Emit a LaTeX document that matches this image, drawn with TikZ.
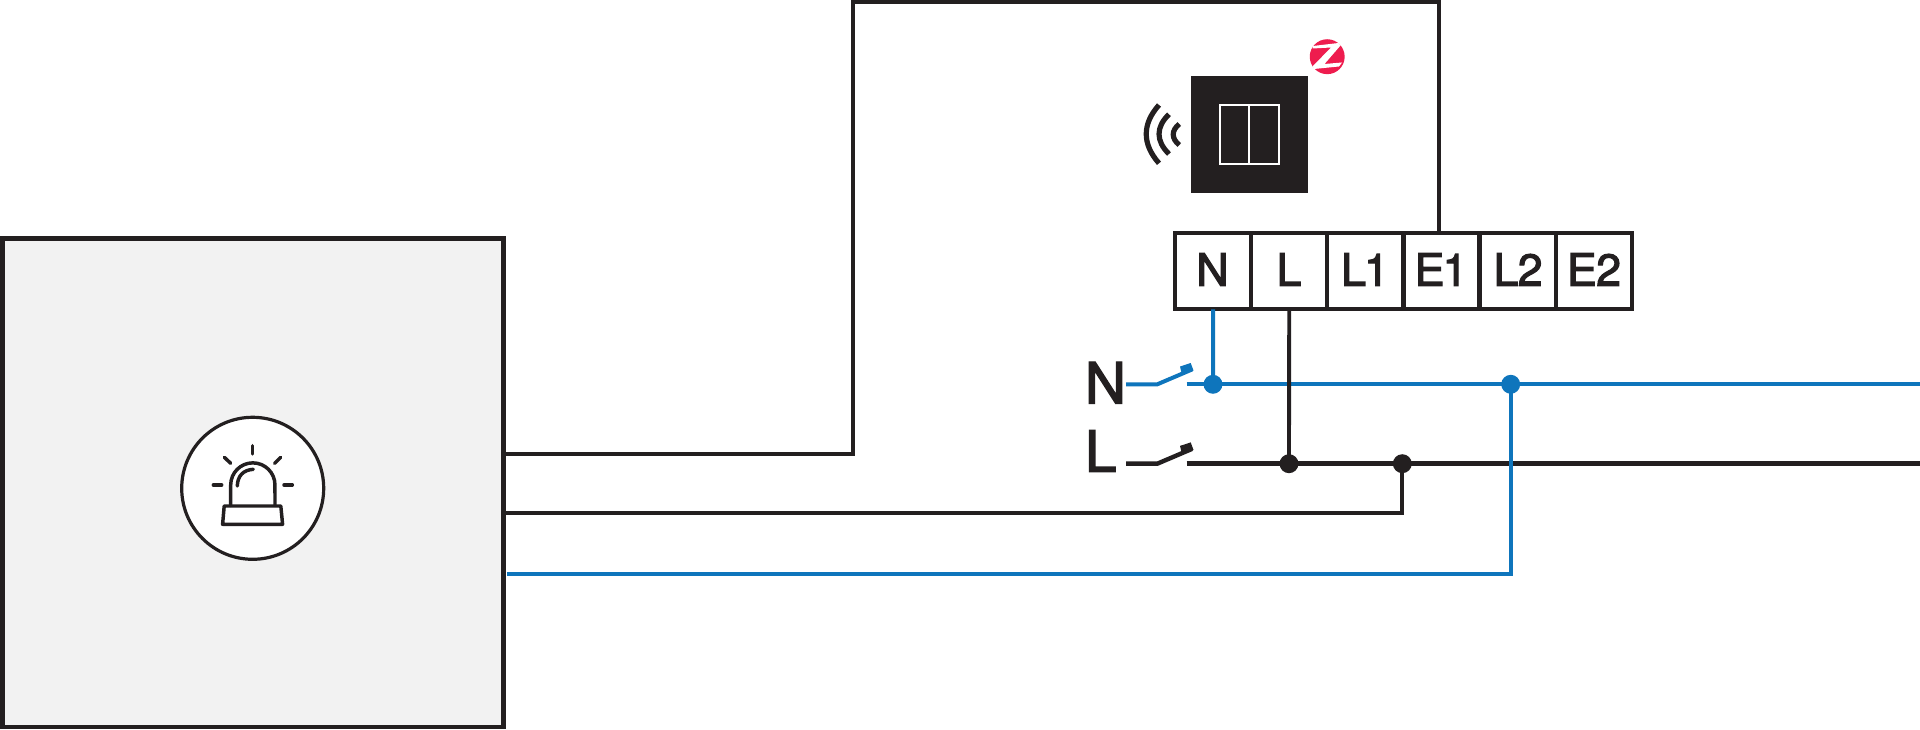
\documentclass[tikz,border=0pt]{standalone}
\usepackage{fontspec}
\setmainfont{TeX Gyre Heros}
\newfontfamily\medfont[FakeBold=2.6]{TeX Gyre Heros}
\definecolor{ink}{HTML}{231F20}
\definecolor{wireblue}{HTML}{0E75BC}
\definecolor{panel}{HTML}{F2F2F2}
\definecolor{zred}{HTML}{EE1C4E}
\tikzset{
  px/.style={x=0.75pt,y=-0.75pt},
  every node/.style={outer sep=0pt},
  wire/.style={draw=ink,line width=2.9pt,line join=miter},
  buswire/.style={draw=ink,line width=3.3pt,line join=miter},
  bluewire/.style={draw=wireblue,line width=3pt,line join=miter},
  dotk/.style={circle,fill=ink,draw=none,inner sep=0pt,minimum size=14.2pt},
  dotb/.style={circle,fill=wireblue,draw=none,inner sep=0pt,minimum size=14.2pt},
  term/.style={rectangle,draw=ink,line width=3.2pt,fill=white,inner sep=0pt,minimum width=57.1pt,minimum height=57.2pt},
  termtext/.style={font=\fontsize{33.5pt}{33.5pt}\medfont,text=ink,inner sep=0pt,anchor=base},
  biglabel/.style={font=\fontsize{42.5pt}{42.5pt}\medfont,text=ink,inner sep=0pt,anchor=base west},
  siren/.style={draw=ink,line width=2.6pt,line cap=round,line join=round},
  wave/.style={draw=ink,line width=3.9pt},
}
\begin{document}
\begin{tikzpicture}[px]
\useasboundingbox (0,0) rectangle (1920,730);
% device
\node[rectangle,draw=ink,line width=3.6pt,fill=panel,inner sep=0pt,minimum width=375.8pt,minimum height=366.5pt,anchor=north west] (dev) at (2.3,238.3) {};
\node[circle,draw=ink,line width=2.4pt,fill=white,inner sep=0pt,minimum size=106.5pt] (alarm) at (252.7,488.3) {};
\draw[siren] (230.7,505.5) -- (230.7,485) arc[start angle=180,end angle=0,radius=16.6pt] -- (275,505.5);
\draw[siren] (237.3,486) .. controls (237.6,476) and (243,470) .. (253.3,469.3);
\draw[siren] (224.2,506) -- (280.8,506) -- (282.6,524.3) -- (222.6,524.3) -- cycle;
\draw[siren] (252.7,445.7) -- (252.7,454);
\draw[siren] (224.3,457.3) -- (230.7,463.3);
\draw[siren] (280.7,457.3) -- (274.7,463.3);
\draw[siren] (213.3,485) -- (221.7,485);
\draw[siren] (284,485) -- (292.3,485);
% module
\node[rectangle,fill=ink,inner sep=0pt,minimum width=87.6pt,minimum height=87.5pt,anchor=north west] (module) at (1190.7,76) {};
\node[rectangle,draw=white,line width=1.5pt,inner sep=0pt,minimum width=44.2pt,minimum height=44pt,anchor=north west] (rocker) at (1219.6,105) {};
\draw[white,line width=1.5pt] (rocker.north) -- (rocker.south);
% zigbee
\node[circle,fill=zred,inner sep=0pt,minimum size=26.2pt] (zb) at (1327.2,56.7) {};
\fill[white] (1313,46) -- (1338.5,43) -- (1340.5,45.5) -- (1324.5,64) -- (1342,62.5) -- (1339,66.5) -- (1314,69) -- (1312.5,66.5) -- (1331,47.5) -- (1312.5,48.5) -- cycle;
% waves
\draw[wave] (1159,105) .. controls (1142,124) and (1142,144) .. (1159,163.3);
\draw[wave] (1169,114.3) .. controls (1155.7,127) and (1155.7,141) .. (1169,154);
\draw[wave] (1179.3,124) .. controls (1171.2,130.5) and (1171.2,138.5) .. (1179.3,145);
% junction dots
\node[dotb] (dN) at (1213,384.3) {};
\node[dotb] (dNb) at (1510.7,384.3) {};
\node[dotk] (dL) at (1289,463.7) {};
\node[dotk] (dLb) at (1402.3,463.7) {};
% free ends and corners
\coordinate (nEnd) at (1920,384.3);
\coordinate (lEnd) at (1920,463.7);
\coordinate (nStart) at (1186.7,384.3);
\coordinate (lStart) at (1186.7,463.7);
\coordinate (aOut) at (503.4,453.7);
\coordinate (bOut) at (503.4,512.7);
\coordinate (cOut) at (507,574.3);
\coordinate (topL) at (852.8,1.8);
\coordinate (topR) at (1439.3,1.8);
% terminals
\node[term,anchor=north west] (tN) at (1175,233) {};
\node[term,anchor=north west] (tL) at (tN.north east) {};
\node[term,anchor=north west] (tLa) at (tL.north east) {};
\node[term,anchor=north west] (tEa) at (tLa.north east) {};
\node[term,anchor=north west] (tLb) at (tEa.north east) {};
\node[term,anchor=north west] (tEb) at (tLb.north east) {};
\node[termtext] (xN) at (1212.5,285.7) {N};
\node[termtext] (xL) at (1289,285.7) {L};
\node[termtext] (xLa) at (1365,285.7) {L\kern-1.5pt 1};
\node[termtext] (xEa) at (1441,285.7) {E\kern-1.5pt 1};
\node[termtext] (xLb) at (1518,285.7) {L\kern-0.5pt 2};
\node[termtext] (xEb) at (1594,285.7) {E\kern-0.5pt 2};
% wires
\draw[wire] (aOut) -- (topL |- aOut) -- (topL) -- (topR) -- (topR |- tEa.north);
\draw[buswire] (lStart) -- (lEnd);
\draw[bluewire] (nStart) -- (nEnd);
\draw[wire] (tL.south) -- (dL.center);
\draw[bluewire] (tN.south) -- (dN.center);
\draw[wire] (bOut) -- (dLb |- bOut) -- (dLb.center);
\draw[bluewire] (cOut) -- (dNb |- cOut) -- (dNb.center);
% labels
\node[biglabel] (lblN) at (1085,403.3) {N};
\node[biglabel] (lblL) at (1085,471.7) {L};
% switches
\coordinate (swN) at (1157.3,384.3);
\coordinate (swL) at (1157.3,463.7);
\coordinate (swNi) at (1126,384.3);
\coordinate (swLi) at (1126,463.7);
\draw[bluewire] (swNi) -- (swN) -- ++(34.7,-14.8);
\draw[buswire] (swLi) -- (swL) -- ++(34.7,-14.8);
\fill[wireblue] (1180,366.5) -- (1190.7,363) -- (1193.5,370.5) -- (1182,375) -- cycle;
\fill[ink] (1180,445.9) -- (1190.7,442.4) -- (1193.5,449.9) -- (1182,454.4) -- cycle;
\end{tikzpicture}
\end{document}
